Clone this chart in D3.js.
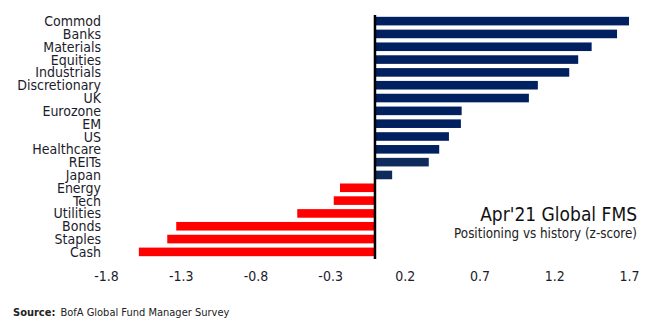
<!DOCTYPE html>
<html>
<head>
<meta charset="utf-8">
<script src="https://cdn.jsdelivr.net/npm/d3@7"></script>
<style>
  body { margin: 0; background: #fff; }
  text { font-family: "DejaVu Sans Condensed", "Liberation Sans Narrow", sans-serif; }
</style>
</head>
<body>
<svg id="grafica" width="658" height="324"></svg>
<script>
// categories top to bottom
var categories = ["Commod", "Banks", "Materials", "Equities", "Industrials", "Discretionary", "UK",
  "Eurozone", "EM", "US", "Healthcare", "REITs", "Japan", "Energy", "Tech", "Utilities", "Bonds", "Staples", "Cash"]
var zscores = [1.70, 1.62, 1.45, 1.36, 1.30, 1.09, 1.03,
  0.58, 0.575, 0.495, 0.43, 0.36, 0.115, -0.234, -0.276, -0.52, -1.33, -1.39, -1.58]
var tickValues = [-1.8, -1.3, -0.8, -0.3, 0.2, 0.7, 1.2, 1.7]

var data = categories.map((c, i) => ({name: c, value: zscores[i]}))

var svg = d3.select("#grafica")

var x = d3.scaleLinear()
  .domain([-1.8, 1.7])
  .range([106, 629])

var y = d3.scaleBand()
  .domain(categories)
  .range([14.7, 258.3])
  .paddingInner(0.33)
  .paddingOuter(0.165)

function barColor(d) {
  if (d.value < 0) return "#ff0000"
  if (d.name == "REITs" || d.name == "Japan") return "#0e2b5c"
  return "#002060"
}

svg.selectAll(".bar")
  .data(data)
  .enter().append("rect")
  .attr("class", "bar")
  .attr("x", d => x(Math.min(0, d.value)))
  .attr("y", d => y(d.name))
  .attr("width", d => Math.abs(x(d.value) - x(0)))
  .attr("height", y.bandwidth())
  .attr("fill", barColor)

// zero line
svg.append("line")
  .attr("x1", x(0)).attr("x2", x(0))
  .attr("y1", 15).attr("y2", 259)
  .attr("stroke", "#000")
  .attr("stroke-width", 2.5)

// category labels (tightly stacked like the original)
svg.selectAll(".name")
  .data(data)
  .enter().append("text")
  .attr("class", "name")
  .attr("x", 101)
  .attr("y", d => y(d.name) + y.bandwidth() / 2)
  .attr("dy", 5)
  .attr("text-anchor", "end")
  .attr("font-size", 14)
  .attr("fill", "#1c1c2c")
  .text(d => d.name)

// x axis
var xAxis = svg.append("g")
  .attr("transform", "translate(0,270)")
  .call(d3.axisBottom(x).tickValues(tickValues).tickSize(0).tickFormat(d => d.toFixed(1)))
xAxis.select(".domain").remove()
xAxis.selectAll("text")
  .attr("font-size", 14)
  .attr("fill", "#1c1c2c")
  .attr("font-family", null)
  .attr("dy", "0.78em")
  .attr("y", 0)

// title block
svg.append("text")
  .attr("x", 637).attr("y", 221)
  .attr("text-anchor", "end")
  .attr("font-size", 19)
  .attr("fill", "#111")
  .text("Apr'21 Global FMS")

svg.append("text")
  .attr("x", 637).attr("y", 238)
  .attr("text-anchor", "end")
  .attr("font-size", 13.3)
  .attr("fill", "#222")
  .text("Positioning vs history (z-score)")

// source
var src = svg.append("text")
  .attr("x", 13).attr("y", 316)
  .attr("font-size", 11)
  .attr("fill", "#222")
src.append("tspan").attr("font-weight", "bold").text("Source:")
src.append("tspan").attr("dx", 5).text("BofA Global Fund Manager Survey")
</script>
</body>
</html>
